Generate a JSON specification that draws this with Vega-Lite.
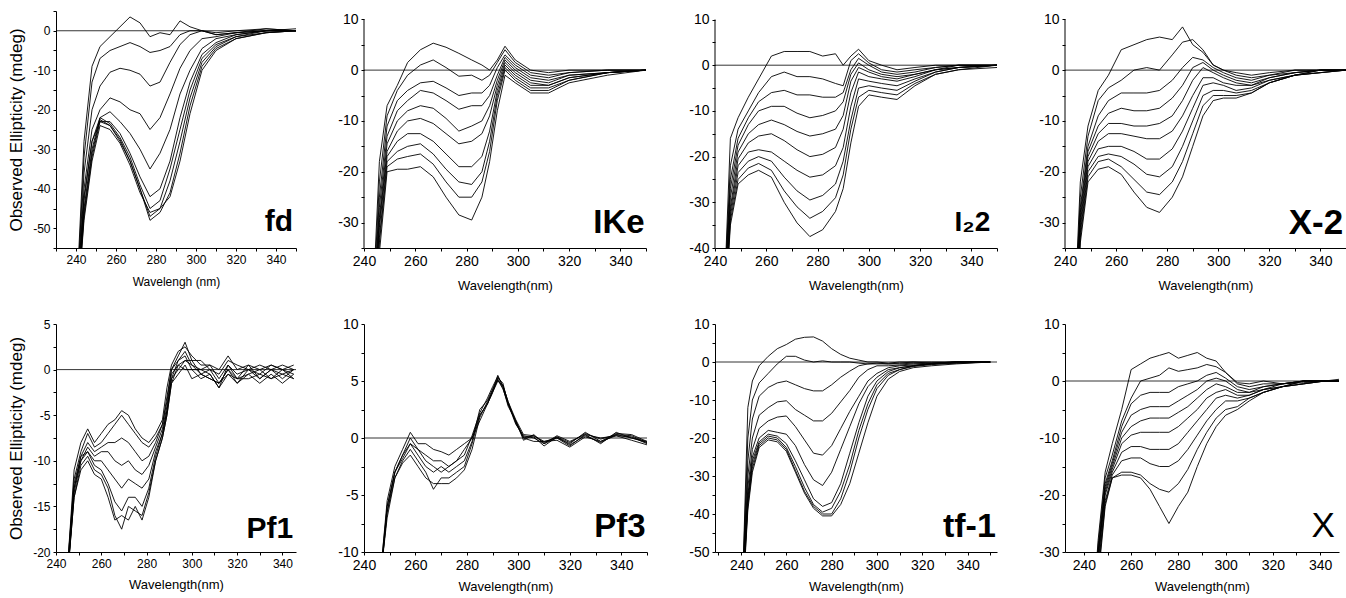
{
"$schema":"https://vega.github.io/schema/vega-lite/v6.json",
"background":"white",
"padding":{"left":7,"top":5,"right":0,"bottom":2},
"bounds":"flush",
"columns":4,
"spacing":{"row":76,"column":68},
"datasets":{"cd":[
{"s":"fda","w":241,"v":-60},{"s":"fda","w":244,"v":-28},{"s":"fda","w":248,"v":-9},{"s":"fda","w":252,"v":-4},{"s":"fda","w":257,"v":-1.5},{"s":"fda","w":262,"v":1},{"s":"fda","w":267,"v":3.5},{"s":"fda","w":272,"v":2},{"s":"fda","w":277,"v":-1.5},{"s":"fda","w":282,"v":-0.5},{"s":"fda","w":287,"v":-1},{"s":"fda","w":292,"v":2.5},{"s":"fda","w":297,"v":1},{"s":"fda","w":303,"v":0},{"s":"fda","w":310,"v":-0.5},{"s":"fda","w":320,"v":0},{"s":"fda","w":335,"v":0.5},{"s":"fda","w":350,"v":0},
{"s":"fdb","w":241,"v":-62},{"s":"fdb","w":244,"v":-32},{"s":"fdb","w":248,"v":-13},{"s":"fdb","w":252,"v":-7},{"s":"fdb","w":257,"v":-5},{"s":"fdb","w":262,"v":-4},{"s":"fdb","w":267,"v":-3},{"s":"fdb","w":272,"v":-4},{"s":"fdb","w":277,"v":-5.5},{"s":"fdb","w":282,"v":-5},{"s":"fdb","w":287,"v":-4},{"s":"fdb","w":292,"v":-1},{"s":"fdb","w":297,"v":0},{"s":"fdb","w":303,"v":0},{"s":"fdb","w":310,"v":-1},{"s":"fdb","w":320,"v":-0.5},{"s":"fdb","w":335,"v":0.5},{"s":"fdb","w":350,"v":0},
{"s":"fdc","w":241,"v":-63},{"s":"fdc","w":244,"v":-36},{"s":"fdc","w":248,"v":-20},{"s":"fdc","w":252,"v":-14},{"s":"fdc","w":257,"v":-10.5},{"s":"fdc","w":262,"v":-9.5},{"s":"fdc","w":267,"v":-10},{"s":"fdc","w":272,"v":-11},{"s":"fdc","w":277,"v":-14},{"s":"fdc","w":282,"v":-13},{"s":"fdc","w":287,"v":-8},{"s":"fdc","w":292,"v":-3.5},{"s":"fdc","w":297,"v":-1},{"s":"fdc","w":303,"v":0},{"s":"fdc","w":310,"v":-1},{"s":"fdc","w":320,"v":-0.5},{"s":"fdc","w":335,"v":0},{"s":"fdc","w":350,"v":0},
{"s":"fdd","w":241,"v":-64},{"s":"fdd","w":244,"v":-40},{"s":"fdd","w":248,"v":-25},{"s":"fdd","w":252,"v":-20},{"s":"fdd","w":257,"v":-17},{"s":"fdd","w":262,"v":-18},{"s":"fdd","w":267,"v":-20},{"s":"fdd","w":272,"v":-21},{"s":"fdd","w":277,"v":-25},{"s":"fdd","w":282,"v":-22},{"s":"fdd","w":287,"v":-16},{"s":"fdd","w":292,"v":-9.5},{"s":"fdd","w":297,"v":-5},{"s":"fdd","w":303,"v":-2},{"s":"fdd","w":310,"v":-1.5},{"s":"fdd","w":320,"v":-0.5},{"s":"fdd","w":335,"v":0},{"s":"fdd","w":350,"v":0},
{"s":"fde","w":241,"v":-65},{"s":"fde","w":244,"v":-43},{"s":"fde","w":248,"v":-28},{"s":"fde","w":252,"v":-22},{"s":"fde","w":257,"v":-20.5},{"s":"fde","w":262,"v":-23},{"s":"fde","w":267,"v":-26},{"s":"fde","w":272,"v":-30},{"s":"fde","w":277,"v":-35},{"s":"fde","w":282,"v":-31},{"s":"fde","w":287,"v":-25},{"s":"fde","w":292,"v":-16},{"s":"fde","w":297,"v":-10},{"s":"fde","w":303,"v":-4.5},{"s":"fde","w":310,"v":-2},{"s":"fde","w":320,"v":-1},{"s":"fde","w":335,"v":0},{"s":"fde","w":350,"v":0},
{"s":"fdf","w":241,"v":-66},{"s":"fdf","w":244,"v":-42},{"s":"fdf","w":248,"v":-28},{"s":"fdf","w":252,"v":-23},{"s":"fdf","w":257,"v":-23},{"s":"fdf","w":262,"v":-26},{"s":"fdf","w":267,"v":-31},{"s":"fdf","w":272,"v":-37},{"s":"fdf","w":277,"v":-42},{"s":"fdf","w":282,"v":-40},{"s":"fdf","w":287,"v":-33},{"s":"fdf","w":292,"v":-22},{"s":"fdf","w":297,"v":-13},{"s":"fdf","w":303,"v":-6},{"s":"fdf","w":310,"v":-3},{"s":"fdf","w":320,"v":-1},{"s":"fdf","w":335,"v":0},{"s":"fdf","w":350,"v":0.5},
{"s":"fdg","w":241,"v":-66},{"s":"fdg","w":244,"v":-45},{"s":"fdg","w":248,"v":-30},{"s":"fdg","w":252,"v":-22},{"s":"fdg","w":257,"v":-23.5},{"s":"fdg","w":262,"v":-27},{"s":"fdg","w":267,"v":-32},{"s":"fdg","w":272,"v":-39},{"s":"fdg","w":277,"v":-45},{"s":"fdg","w":282,"v":-43},{"s":"fdg","w":287,"v":-35},{"s":"fdg","w":292,"v":-25},{"s":"fdg","w":297,"v":-15},{"s":"fdg","w":303,"v":-7},{"s":"fdg","w":310,"v":-3.5},{"s":"fdg","w":320,"v":-1.5},{"s":"fdg","w":335,"v":0},{"s":"fdg","w":350,"v":0},
{"s":"fdh","w":241,"v":-67},{"s":"fdh","w":244,"v":-46},{"s":"fdh","w":248,"v":-31},{"s":"fdh","w":252,"v":-22.5},{"s":"fdh","w":257,"v":-24},{"s":"fdh","w":262,"v":-27.5},{"s":"fdh","w":267,"v":-33},{"s":"fdh","w":272,"v":-40},{"s":"fdh","w":277,"v":-47},{"s":"fdh","w":282,"v":-45},{"s":"fdh","w":287,"v":-38},{"s":"fdh","w":292,"v":-28},{"s":"fdh","w":297,"v":-17},{"s":"fdh","w":303,"v":-8},{"s":"fdh","w":310,"v":-4},{"s":"fdh","w":320,"v":-1.5},{"s":"fdh","w":335,"v":-0.5},{"s":"fdh","w":350,"v":0},
{"s":"fdi","w":241,"v":-68},{"s":"fdi","w":244,"v":-47},{"s":"fdi","w":248,"v":-32},{"s":"fdi","w":252,"v":-23},{"s":"fdi","w":257,"v":-24},{"s":"fdi","w":262,"v":-28},{"s":"fdi","w":267,"v":-33},{"s":"fdi","w":272,"v":-40},{"s":"fdi","w":277,"v":-48},{"s":"fdi","w":282,"v":-46},{"s":"fdi","w":287,"v":-41},{"s":"fdi","w":292,"v":-31},{"s":"fdi","w":297,"v":-19},{"s":"fdi","w":303,"v":-9},{"s":"fdi","w":310,"v":-4.5},{"s":"fdi","w":320,"v":-2},{"s":"fdi","w":335,"v":-0.5},{"s":"fdi","w":350,"v":0},
{"s":"fdj","w":241,"v":-68},{"s":"fdj","w":244,"v":-48},{"s":"fdj","w":248,"v":-33},{"s":"fdj","w":252,"v":-24},{"s":"fdj","w":257,"v":-25},{"s":"fdj","w":262,"v":-28.5},{"s":"fdj","w":267,"v":-34},{"s":"fdj","w":272,"v":-41},{"s":"fdj","w":277,"v":-46},{"s":"fdj","w":282,"v":-45},{"s":"fdj","w":287,"v":-42},{"s":"fdj","w":292,"v":-33},{"s":"fdj","w":297,"v":-21},{"s":"fdj","w":303,"v":-10},{"s":"fdj","w":310,"v":-5},{"s":"fdj","w":320,"v":-2},{"s":"fdj","w":335,"v":-0.5},{"s":"fdj","w":350,"v":0},
{"s":"ika","w":244,"v":-40},{"s":"ika","w":246,"v":-18},{"s":"ika","w":249,"v":-7},{"s":"ika","w":253,"v":-3},{"s":"ika","w":257,"v":1.5},{"s":"ika","w":262,"v":4},{"s":"ika","w":267,"v":5.3},{"s":"ika","w":272,"v":4.5},{"s":"ika","w":277,"v":3.3},{"s":"ika","w":282,"v":2},{"s":"ika","w":286,"v":1},{"s":"ika","w":289,"v":0},{"s":"ika","w":292,"v":2},{"s":"ika","w":295,"v":4.7},{"s":"ika","w":299,"v":2},{"s":"ika","w":305,"v":0},{"s":"ika","w":312,"v":-0.5},{"s":"ika","w":320,"v":0},{"s":"ika","w":335,"v":0},{"s":"ika","w":350,"v":0},
{"s":"ikb","w":244,"v":-42},{"s":"ikb","w":246,"v":-22},{"s":"ikb","w":249,"v":-9},{"s":"ikb","w":253,"v":-4},{"s":"ikb","w":257,"v":-1},{"s":"ikb","w":262,"v":1},{"s":"ikb","w":267,"v":2},{"s":"ikb","w":272,"v":0.5},{"s":"ikb","w":277,"v":-1.2},{"s":"ikb","w":282,"v":-1},{"s":"ikb","w":286,"v":-2},{"s":"ikb","w":289,"v":-1},{"s":"ikb","w":292,"v":1.5},{"s":"ikb","w":295,"v":4},{"s":"ikb","w":299,"v":1.5},{"s":"ikb","w":305,"v":-0.5},{"s":"ikb","w":312,"v":-1},{"s":"ikb","w":320,"v":-0.5},{"s":"ikb","w":335,"v":0},{"s":"ikb","w":350,"v":0},
{"s":"ikc","w":244,"v":-44},{"s":"ikc","w":246,"v":-25},{"s":"ikc","w":249,"v":-11},{"s":"ikc","w":253,"v":-6},{"s":"ikc","w":257,"v":-4},{"s":"ikc","w":262,"v":-2.5},{"s":"ikc","w":267,"v":-2.2},{"s":"ikc","w":272,"v":-3.5},{"s":"ikc","w":277,"v":-5},{"s":"ikc","w":282,"v":-4.5},{"s":"ikc","w":286,"v":-4.5},{"s":"ikc","w":289,"v":-3},{"s":"ikc","w":292,"v":0.5},{"s":"ikc","w":295,"v":3},{"s":"ikc","w":299,"v":1},{"s":"ikc","w":305,"v":-1},{"s":"ikc","w":312,"v":-1.5},{"s":"ikc","w":320,"v":-0.5},{"s":"ikc","w":335,"v":0},{"s":"ikc","w":350,"v":0},
{"s":"ikd","w":244,"v":-45},{"s":"ikd","w":246,"v":-27},{"s":"ikd","w":249,"v":-13},{"s":"ikd","w":253,"v":-8},{"s":"ikd","w":257,"v":-6},{"s":"ikd","w":262,"v":-4},{"s":"ikd","w":267,"v":-4.5},{"s":"ikd","w":272,"v":-6},{"s":"ikd","w":277,"v":-7.7},{"s":"ikd","w":282,"v":-7},{"s":"ikd","w":286,"v":-7},{"s":"ikd","w":289,"v":-5},{"s":"ikd","w":292,"v":-1},{"s":"ikd","w":295,"v":2.5},{"s":"ikd","w":299,"v":0.5},{"s":"ikd","w":305,"v":-1.5},{"s":"ikd","w":312,"v":-2},{"s":"ikd","w":320,"v":-1},{"s":"ikd","w":335,"v":-0.5},{"s":"ikd","w":350,"v":0},
{"s":"ike","w":244,"v":-46},{"s":"ike","w":246,"v":-29},{"s":"ike","w":249,"v":-14.5},{"s":"ike","w":253,"v":-10},{"s":"ike","w":257,"v":-8},{"s":"ike","w":262,"v":-7},{"s":"ike","w":267,"v":-7.5},{"s":"ike","w":272,"v":-9.5},{"s":"ike","w":277,"v":-12},{"s":"ike","w":282,"v":-11},{"s":"ike","w":286,"v":-10},{"s":"ike","w":289,"v":-7},{"s":"ike","w":292,"v":-2},{"s":"ike","w":295,"v":2},{"s":"ike","w":299,"v":0},{"s":"ike","w":305,"v":-2},{"s":"ike","w":312,"v":-2.5},{"s":"ike","w":320,"v":-1},{"s":"ike","w":335,"v":-0.5},{"s":"ike","w":350,"v":0},
{"s":"ikf","w":244,"v":-47},{"s":"ikf","w":246,"v":-30},{"s":"ikf","w":249,"v":-16},{"s":"ikf","w":253,"v":-12},{"s":"ikf","w":257,"v":-10},{"s":"ikf","w":262,"v":-9.5},{"s":"ikf","w":267,"v":-10.5},{"s":"ikf","w":272,"v":-12.5},{"s":"ikf","w":277,"v":-14.5},{"s":"ikf","w":282,"v":-14},{"s":"ikf","w":286,"v":-12.5},{"s":"ikf","w":289,"v":-9},{"s":"ikf","w":292,"v":-3},{"s":"ikf","w":295,"v":1.5},{"s":"ikf","w":299,"v":-0.5},{"s":"ikf","w":305,"v":-2.5},{"s":"ikf","w":312,"v":-3},{"s":"ikf","w":320,"v":-1.5},{"s":"ikf","w":335,"v":-0.5},{"s":"ikf","w":350,"v":0},
{"s":"ikg","w":244,"v":-48},{"s":"ikg","w":246,"v":-31},{"s":"ikg","w":249,"v":-17},{"s":"ikg","w":253,"v":-14},{"s":"ikg","w":257,"v":-12.5},{"s":"ikg","w":262,"v":-12.5},{"s":"ikg","w":267,"v":-14},{"s":"ikg","w":272,"v":-16.5},{"s":"ikg","w":277,"v":-19},{"s":"ikg","w":282,"v":-19},{"s":"ikg","w":286,"v":-17},{"s":"ikg","w":289,"v":-12},{"s":"ikg","w":292,"v":-4},{"s":"ikg","w":295,"v":1},{"s":"ikg","w":299,"v":-1},{"s":"ikg","w":305,"v":-3},{"s":"ikg","w":312,"v":-3},{"s":"ikg","w":320,"v":-1.5},{"s":"ikg","w":335,"v":-0.5},{"s":"ikg","w":350,"v":0},
{"s":"ikh","w":244,"v":-49},{"s":"ikh","w":246,"v":-33},{"s":"ikh","w":249,"v":-18},{"s":"ikh","w":253,"v":-16},{"s":"ikh","w":257,"v":-15},{"s":"ikh","w":262,"v":-14.5},{"s":"ikh","w":267,"v":-16.5},{"s":"ikh","w":272,"v":-19.5},{"s":"ikh","w":277,"v":-22},{"s":"ikh","w":282,"v":-22.5},{"s":"ikh","w":286,"v":-20},{"s":"ikh","w":289,"v":-14},{"s":"ikh","w":292,"v":-5},{"s":"ikh","w":295,"v":0.5},{"s":"ikh","w":299,"v":-1.5},{"s":"ikh","w":305,"v":-3.5},{"s":"ikh","w":312,"v":-3.5},{"s":"ikh","w":320,"v":-2},{"s":"ikh","w":335,"v":-0.5},{"s":"ikh","w":350,"v":0},
{"s":"iki","w":244,"v":-50},{"s":"iki","w":246,"v":-34},{"s":"iki","w":249,"v":-19},{"s":"iki","w":253,"v":-17.5},{"s":"iki","w":257,"v":-17},{"s":"iki","w":262,"v":-16.5},{"s":"iki","w":267,"v":-18.5},{"s":"iki","w":272,"v":-22},{"s":"iki","w":277,"v":-25},{"s":"iki","w":282,"v":-25},{"s":"iki","w":286,"v":-22},{"s":"iki","w":289,"v":-16},{"s":"iki","w":292,"v":-6},{"s":"iki","w":295,"v":0},{"s":"iki","w":299,"v":-2},{"s":"iki","w":305,"v":-4},{"s":"iki","w":312,"v":-4},{"s":"iki","w":320,"v":-2},{"s":"iki","w":335,"v":-0.5},{"s":"iki","w":350,"v":0},
{"s":"ikj","w":244,"v":-52},{"s":"ikj","w":246,"v":-36},{"s":"ikj","w":249,"v":-20},{"s":"ikj","w":253,"v":-19.5},{"s":"ikj","w":257,"v":-19.5},{"s":"ikj","w":262,"v":-19},{"s":"ikj","w":267,"v":-21},{"s":"ikj","w":272,"v":-25},{"s":"ikj","w":277,"v":-28.5},{"s":"ikj","w":282,"v":-29.5},{"s":"ikj","w":286,"v":-25},{"s":"ikj","w":289,"v":-18},{"s":"ikj","w":292,"v":-8},{"s":"ikj","w":295,"v":-1},{"s":"ikj","w":299,"v":-2.5},{"s":"ikj","w":305,"v":-4.5},{"s":"ikj","w":312,"v":-4.5},{"s":"ikj","w":320,"v":-2.5},{"s":"ikj","w":335,"v":-1},{"s":"ikj","w":350,"v":0},
{"s":"i2a","w":244,"v":-45},{"s":"i2a","w":246,"v":-16},{"s":"i2a","w":249,"v":-11.5},{"s":"i2a","w":253,"v":-7},{"s":"i2a","w":257,"v":-3},{"s":"i2a","w":262,"v":2},{"s":"i2a","w":267,"v":3},{"s":"i2a","w":272,"v":3},{"s":"i2a","w":277,"v":3},{"s":"i2a","w":282,"v":2},{"s":"i2a","w":287,"v":2.5},{"s":"i2a","w":290,"v":0},{"s":"i2a","w":293,"v":2},{"s":"i2a","w":296,"v":3.5},{"s":"i2a","w":300,"v":1},{"s":"i2a","w":305,"v":0},{"s":"i2a","w":311,"v":-1},{"s":"i2a","w":318,"v":-0.5},{"s":"i2a","w":326,"v":0},{"s":"i2a","w":335,"v":0},{"s":"i2a","w":350,"v":0},
{"s":"i2b","w":244,"v":-46},{"s":"i2b","w":246,"v":-22},{"s":"i2b","w":249,"v":-14},{"s":"i2b","w":253,"v":-10},{"s":"i2b","w":257,"v":-6},{"s":"i2b","w":262,"v":-2.5},{"s":"i2b","w":267,"v":-1.5},{"s":"i2b","w":272,"v":-2.5},{"s":"i2b","w":277,"v":-2.5},{"s":"i2b","w":282,"v":-3},{"s":"i2b","w":287,"v":-4},{"s":"i2b","w":290,"v":-4.5},{"s":"i2b","w":293,"v":1},{"s":"i2b","w":296,"v":2.5},{"s":"i2b","w":300,"v":0.5},{"s":"i2b","w":305,"v":-1},{"s":"i2b","w":311,"v":-1.5},{"s":"i2b","w":318,"v":-1},{"s":"i2b","w":326,"v":-0.5},{"s":"i2b","w":335,"v":0},{"s":"i2b","w":350,"v":0},
{"s":"i2c","w":244,"v":-47},{"s":"i2c","w":246,"v":-25},{"s":"i2c","w":249,"v":-16},{"s":"i2c","w":253,"v":-11.5},{"s":"i2c","w":257,"v":-8},{"s":"i2c","w":262,"v":-6},{"s":"i2c","w":267,"v":-5.5},{"s":"i2c","w":272,"v":-6.5},{"s":"i2c","w":277,"v":-6.5},{"s":"i2c","w":282,"v":-7},{"s":"i2c","w":287,"v":-7},{"s":"i2c","w":290,"v":-6},{"s":"i2c","w":293,"v":-1},{"s":"i2c","w":296,"v":1.5},{"s":"i2c","w":300,"v":0},{"s":"i2c","w":305,"v":-1.5},{"s":"i2c","w":311,"v":-2},{"s":"i2c","w":318,"v":-1.5},{"s":"i2c","w":326,"v":-0.5},{"s":"i2c","w":335,"v":0},{"s":"i2c","w":350,"v":0},
{"s":"i2d","w":244,"v":-48},{"s":"i2d","w":246,"v":-27},{"s":"i2d","w":249,"v":-17.5},{"s":"i2d","w":253,"v":-13},{"s":"i2d","w":257,"v":-10},{"s":"i2d","w":262,"v":-9},{"s":"i2d","w":267,"v":-9},{"s":"i2d","w":272,"v":-10.5},{"s":"i2d","w":277,"v":-11.5},{"s":"i2d","w":282,"v":-11},{"s":"i2d","w":287,"v":-10},{"s":"i2d","w":290,"v":-8},{"s":"i2d","w":293,"v":-2},{"s":"i2d","w":296,"v":0.5},{"s":"i2d","w":300,"v":-1},{"s":"i2d","w":305,"v":-2},{"s":"i2d","w":311,"v":-2.5},{"s":"i2d","w":318,"v":-2},{"s":"i2d","w":326,"v":-1},{"s":"i2d","w":335,"v":0},{"s":"i2d","w":350,"v":0},
{"s":"i2e","w":244,"v":-49},{"s":"i2e","w":246,"v":-29},{"s":"i2e","w":249,"v":-19},{"s":"i2e","w":253,"v":-15},{"s":"i2e","w":257,"v":-13},{"s":"i2e","w":262,"v":-12},{"s":"i2e","w":267,"v":-13},{"s":"i2e","w":272,"v":-14.5},{"s":"i2e","w":277,"v":-15.5},{"s":"i2e","w":282,"v":-15},{"s":"i2e","w":287,"v":-14},{"s":"i2e","w":290,"v":-11},{"s":"i2e","w":293,"v":-3.5},{"s":"i2e","w":296,"v":-0.5},{"s":"i2e","w":300,"v":-1.5},{"s":"i2e","w":305,"v":-2.5},{"s":"i2e","w":311,"v":-3},{"s":"i2e","w":318,"v":-2},{"s":"i2e","w":326,"v":-1},{"s":"i2e","w":335,"v":-0.5},{"s":"i2e","w":350,"v":0},
{"s":"i2f","w":244,"v":-50},{"s":"i2f","w":246,"v":-31},{"s":"i2f","w":249,"v":-20.5},{"s":"i2f","w":253,"v":-17},{"s":"i2f","w":257,"v":-15.5},{"s":"i2f","w":262,"v":-15},{"s":"i2f","w":267,"v":-16.5},{"s":"i2f","w":272,"v":-18.5},{"s":"i2f","w":277,"v":-20},{"s":"i2f","w":282,"v":-19.5},{"s":"i2f","w":287,"v":-18},{"s":"i2f","w":290,"v":-14},{"s":"i2f","w":293,"v":-6},{"s":"i2f","w":296,"v":-1.5},{"s":"i2f","w":300,"v":-2.5},{"s":"i2f","w":305,"v":-3},{"s":"i2f","w":311,"v":-3.5},{"s":"i2f","w":318,"v":-2.5},{"s":"i2f","w":326,"v":-1},{"s":"i2f","w":335,"v":-0.5},{"s":"i2f","w":350,"v":0},
{"s":"i2g","w":244,"v":-51},{"s":"i2g","w":246,"v":-32},{"s":"i2g","w":249,"v":-22},{"s":"i2g","w":253,"v":-19},{"s":"i2g","w":257,"v":-18.5},{"s":"i2g","w":262,"v":-19},{"s":"i2g","w":267,"v":-21},{"s":"i2g","w":272,"v":-23},{"s":"i2g","w":277,"v":-24.5},{"s":"i2g","w":282,"v":-24},{"s":"i2g","w":287,"v":-22},{"s":"i2g","w":290,"v":-18},{"s":"i2g","w":293,"v":-9},{"s":"i2g","w":296,"v":-3},{"s":"i2g","w":300,"v":-3.5},{"s":"i2g","w":305,"v":-4},{"s":"i2g","w":311,"v":-4.5},{"s":"i2g","w":318,"v":-3},{"s":"i2g","w":326,"v":-1.5},{"s":"i2g","w":335,"v":-0.5},{"s":"i2g","w":350,"v":0},
{"s":"i2h","w":244,"v":-52},{"s":"i2h","w":246,"v":-33},{"s":"i2h","w":249,"v":-23.5},{"s":"i2h","w":253,"v":-21},{"s":"i2h","w":257,"v":-20},{"s":"i2h","w":262,"v":-21},{"s":"i2h","w":267,"v":-24.5},{"s":"i2h","w":272,"v":-27.5},{"s":"i2h","w":277,"v":-29.5},{"s":"i2h","w":282,"v":-28.5},{"s":"i2h","w":287,"v":-26},{"s":"i2h","w":290,"v":-21},{"s":"i2h","w":293,"v":-12},{"s":"i2h","w":296,"v":-5},{"s":"i2h","w":300,"v":-4.5},{"s":"i2h","w":305,"v":-5},{"s":"i2h","w":311,"v":-5.5},{"s":"i2h","w":318,"v":-3.5},{"s":"i2h","w":326,"v":-1.5},{"s":"i2h","w":335,"v":-0.5},{"s":"i2h","w":350,"v":0},
{"s":"i2i","w":244,"v":-53},{"s":"i2i","w":246,"v":-34},{"s":"i2i","w":249,"v":-25},{"s":"i2i","w":253,"v":-22.5},{"s":"i2i","w":257,"v":-21.5},{"s":"i2i","w":262,"v":-23},{"s":"i2i","w":267,"v":-27.5},{"s":"i2i","w":272,"v":-31},{"s":"i2i","w":277,"v":-33.5},{"s":"i2i","w":282,"v":-32},{"s":"i2i","w":287,"v":-29},{"s":"i2i","w":290,"v":-24},{"s":"i2i","w":293,"v":-14},{"s":"i2i","w":296,"v":-7},{"s":"i2i","w":300,"v":-5.5},{"s":"i2i","w":305,"v":-6},{"s":"i2i","w":311,"v":-6.5},{"s":"i2i","w":318,"v":-4},{"s":"i2i","w":326,"v":-2},{"s":"i2i","w":335,"v":-1},{"s":"i2i","w":350,"v":0},
{"s":"i2j","w":244,"v":-54},{"s":"i2j","w":246,"v":-35},{"s":"i2j","w":249,"v":-26},{"s":"i2j","w":253,"v":-24},{"s":"i2j","w":257,"v":-23},{"s":"i2j","w":262,"v":-24.5},{"s":"i2j","w":267,"v":-30},{"s":"i2j","w":272,"v":-34.5},{"s":"i2j","w":277,"v":-37.5},{"s":"i2j","w":282,"v":-36},{"s":"i2j","w":287,"v":-32},{"s":"i2j","w":290,"v":-27},{"s":"i2j","w":293,"v":-17},{"s":"i2j","w":296,"v":-9},{"s":"i2j","w":300,"v":-6.5},{"s":"i2j","w":305,"v":-7},{"s":"i2j","w":311,"v":-7.5},{"s":"i2j","w":318,"v":-4.5},{"s":"i2j","w":326,"v":-2},{"s":"i2j","w":335,"v":-1},{"s":"i2j","w":350,"v":-0.5},
{"s":"x2a","w":244,"v":-45},{"s":"x2a","w":246,"v":-22},{"s":"x2a","w":249,"v":-11},{"s":"x2a","w":253,"v":-4},{"s":"x2a","w":257,"v":-1},{"s":"x2a","w":262,"v":4},{"s":"x2a","w":267,"v":5},{"s":"x2a","w":272,"v":6},{"s":"x2a","w":277,"v":6.5},{"s":"x2a","w":282,"v":6},{"s":"x2a","w":286,"v":8.5},{"s":"x2a","w":290,"v":5},{"s":"x2a","w":294,"v":3.5},{"s":"x2a","w":298,"v":1},{"s":"x2a","w":302,"v":0},{"s":"x2a","w":307,"v":-0.5},{"s":"x2a","w":313,"v":-1},{"s":"x2a","w":320,"v":-0.5},{"s":"x2a","w":330,"v":0},{"s":"x2a","w":340,"v":0},{"s":"x2a","w":350,"v":0},
{"s":"x2b","w":244,"v":-46},{"s":"x2b","w":246,"v":-25},{"s":"x2b","w":249,"v":-13},{"s":"x2b","w":253,"v":-6},{"s":"x2b","w":257,"v":-3.5},{"s":"x2b","w":262,"v":-2},{"s":"x2b","w":267,"v":0},{"s":"x2b","w":272,"v":0.5},{"s":"x2b","w":277,"v":0},{"s":"x2b","w":282,"v":3},{"s":"x2b","w":286,"v":5.5},{"s":"x2b","w":290,"v":6},{"s":"x2b","w":294,"v":4},{"s":"x2b","w":298,"v":1},{"s":"x2b","w":302,"v":0},{"s":"x2b","w":307,"v":-1},{"s":"x2b","w":313,"v":-1.5},{"s":"x2b","w":320,"v":-1},{"s":"x2b","w":330,"v":0},{"s":"x2b","w":340,"v":0},{"s":"x2b","w":350,"v":0},
{"s":"x2c","w":244,"v":-47},{"s":"x2c","w":246,"v":-27},{"s":"x2c","w":249,"v":-15},{"s":"x2c","w":253,"v":-9},{"s":"x2c","w":257,"v":-6},{"s":"x2c","w":262,"v":-4.5},{"s":"x2c","w":267,"v":-4.5},{"s":"x2c","w":272,"v":-4.5},{"s":"x2c","w":277,"v":-4},{"s":"x2c","w":282,"v":-2},{"s":"x2c","w":286,"v":0.5},{"s":"x2c","w":290,"v":2.5},{"s":"x2c","w":294,"v":2},{"s":"x2c","w":298,"v":0.5},{"s":"x2c","w":302,"v":-0.5},{"s":"x2c","w":307,"v":-1.5},{"s":"x2c","w":313,"v":-2},{"s":"x2c","w":320,"v":-1},{"s":"x2c","w":330,"v":-0.5},{"s":"x2c","w":340,"v":0},{"s":"x2c","w":350,"v":0},
{"s":"x2d","w":244,"v":-48},{"s":"x2d","w":246,"v":-28},{"s":"x2d","w":249,"v":-16},{"s":"x2d","w":253,"v":-11},{"s":"x2d","w":257,"v":-8.5},{"s":"x2d","w":262,"v":-7.5},{"s":"x2d","w":267,"v":-8},{"s":"x2d","w":272,"v":-8},{"s":"x2d","w":277,"v":-7.5},{"s":"x2d","w":282,"v":-5.5},{"s":"x2d","w":286,"v":-3},{"s":"x2d","w":290,"v":0.5},{"s":"x2d","w":294,"v":1.5},{"s":"x2d","w":298,"v":0},{"s":"x2d","w":302,"v":-1},{"s":"x2d","w":307,"v":-2},{"s":"x2d","w":313,"v":-2.5},{"s":"x2d","w":320,"v":-1.5},{"s":"x2d","w":330,"v":-0.5},{"s":"x2d","w":340,"v":0},{"s":"x2d","w":350,"v":0},
{"s":"x2e","w":244,"v":-49},{"s":"x2e","w":246,"v":-29},{"s":"x2e","w":249,"v":-17},{"s":"x2e","w":253,"v":-12.5},{"s":"x2e","w":257,"v":-10.5},{"s":"x2e","w":262,"v":-10.5},{"s":"x2e","w":267,"v":-11},{"s":"x2e","w":272,"v":-11},{"s":"x2e","w":277,"v":-10.5},{"s":"x2e","w":282,"v":-9},{"s":"x2e","w":286,"v":-6},{"s":"x2e","w":290,"v":-2},{"s":"x2e","w":294,"v":0.5},{"s":"x2e","w":298,"v":-0.5},{"s":"x2e","w":302,"v":-1.5},{"s":"x2e","w":307,"v":-2.5},{"s":"x2e","w":313,"v":-3},{"s":"x2e","w":320,"v":-1.5},{"s":"x2e","w":330,"v":-0.5},{"s":"x2e","w":340,"v":0},{"s":"x2e","w":350,"v":0},
{"s":"x2f","w":244,"v":-50},{"s":"x2f","w":246,"v":-30},{"s":"x2f","w":249,"v":-18},{"s":"x2f","w":253,"v":-14},{"s":"x2f","w":257,"v":-12.5},{"s":"x2f","w":262,"v":-12.5},{"s":"x2f","w":267,"v":-13},{"s":"x2f","w":272,"v":-13.5},{"s":"x2f","w":277,"v":-13.5},{"s":"x2f","w":282,"v":-12},{"s":"x2f","w":286,"v":-9},{"s":"x2f","w":290,"v":-5},{"s":"x2f","w":294,"v":-1.5},{"s":"x2f","w":298,"v":-1.5},{"s":"x2f","w":302,"v":-2.5},{"s":"x2f","w":307,"v":-3},{"s":"x2f","w":313,"v":-3},{"s":"x2f","w":320,"v":-2},{"s":"x2f","w":330,"v":-1},{"s":"x2f","w":340,"v":0},{"s":"x2f","w":350,"v":0},
{"s":"x2g","w":244,"v":-51},{"s":"x2g","w":246,"v":-31},{"s":"x2g","w":249,"v":-19},{"s":"x2g","w":253,"v":-15.5},{"s":"x2g","w":257,"v":-15},{"s":"x2g","w":262,"v":-15},{"s":"x2g","w":267,"v":-16},{"s":"x2g","w":272,"v":-17.5},{"s":"x2g","w":277,"v":-17.5},{"s":"x2g","w":282,"v":-15.5},{"s":"x2g","w":286,"v":-12},{"s":"x2g","w":290,"v":-7.5},{"s":"x2g","w":294,"v":-3},{"s":"x2g","w":298,"v":-2.5},{"s":"x2g","w":302,"v":-3},{"s":"x2g","w":307,"v":-4},{"s":"x2g","w":313,"v":-3.5},{"s":"x2g","w":320,"v":-2},{"s":"x2g","w":330,"v":-1},{"s":"x2g","w":340,"v":0},{"s":"x2g","w":350,"v":0},
{"s":"x2h","w":244,"v":-52},{"s":"x2h","w":246,"v":-32},{"s":"x2h","w":249,"v":-20},{"s":"x2h","w":253,"v":-17},{"s":"x2h","w":257,"v":-16.5},{"s":"x2h","w":262,"v":-17},{"s":"x2h","w":267,"v":-18.5},{"s":"x2h","w":272,"v":-20.5},{"s":"x2h","w":277,"v":-21},{"s":"x2h","w":282,"v":-19},{"s":"x2h","w":286,"v":-15},{"s":"x2h","w":290,"v":-10},{"s":"x2h","w":294,"v":-5},{"s":"x2h","w":298,"v":-4},{"s":"x2h","w":302,"v":-4},{"s":"x2h","w":307,"v":-4.5},{"s":"x2h","w":313,"v":-4},{"s":"x2h","w":320,"v":-2.5},{"s":"x2h","w":330,"v":-1},{"s":"x2h","w":340,"v":-0.5},{"s":"x2h","w":350,"v":0},
{"s":"x2i","w":244,"v":-53},{"s":"x2i","w":246,"v":-33},{"s":"x2i","w":249,"v":-21},{"s":"x2i","w":253,"v":-18},{"s":"x2i","w":257,"v":-17.5},{"s":"x2i","w":262,"v":-19},{"s":"x2i","w":267,"v":-21.5},{"s":"x2i","w":272,"v":-24},{"s":"x2i","w":277,"v":-24.5},{"s":"x2i","w":282,"v":-22},{"s":"x2i","w":286,"v":-18},{"s":"x2i","w":290,"v":-12.5},{"s":"x2i","w":294,"v":-7},{"s":"x2i","w":298,"v":-5},{"s":"x2i","w":302,"v":-5},{"s":"x2i","w":307,"v":-5},{"s":"x2i","w":313,"v":-4.5},{"s":"x2i","w":320,"v":-2.5},{"s":"x2i","w":330,"v":-1},{"s":"x2i","w":340,"v":-0.5},{"s":"x2i","w":350,"v":0},
{"s":"x2j","w":244,"v":-54},{"s":"x2j","w":246,"v":-34},{"s":"x2j","w":249,"v":-22},{"s":"x2j","w":253,"v":-19.5},{"s":"x2j","w":257,"v":-19},{"s":"x2j","w":262,"v":-20.5},{"s":"x2j","w":267,"v":-24},{"s":"x2j","w":272,"v":-27},{"s":"x2j","w":277,"v":-28},{"s":"x2j","w":282,"v":-25},{"s":"x2j","w":286,"v":-21},{"s":"x2j","w":290,"v":-15},{"s":"x2j","w":294,"v":-9},{"s":"x2j","w":298,"v":-6},{"s":"x2j","w":302,"v":-5.5},{"s":"x2j","w":307,"v":-5.5},{"s":"x2j","w":313,"v":-4.5},{"s":"x2j","w":320,"v":-2.5},{"s":"x2j","w":330,"v":-1},{"s":"x2j","w":340,"v":-0.5},{"s":"x2j","w":350,"v":0},
{"s":"p1a","w":245,"v":-22},{"s":"p1a","w":248,"v":-11},{"s":"p1a","w":251,"v":-8},{"s":"p1a","w":254,"v":-6.5},{"s":"p1a","w":257,"v":-8},{"s":"p1a","w":260,"v":-7},{"s":"p1a","w":263,"v":-6},{"s":"p1a","w":266,"v":-5.5},{"s":"p1a","w":269,"v":-4.5},{"s":"p1a","w":272,"v":-5},{"s":"p1a","w":275,"v":-6.5},{"s":"p1a","w":278,"v":-7.5},{"s":"p1a","w":281,"v":-8},{"s":"p1a","w":284,"v":-7},{"s":"p1a","w":287,"v":-5.5},{"s":"p1a","w":289,"v":-2},{"s":"p1a","w":291,"v":0.5},{"s":"p1a","w":294,"v":2},{"s":"p1a","w":297,"v":2.5},{"s":"p1a","w":300,"v":1.5},{"s":"p1a","w":304,"v":0.5},{"s":"p1a","w":308,"v":0.5},{"s":"p1a","w":312,"v":0},{"s":"p1a","w":316,"v":1.5},{"s":"p1a","w":320,"v":0},{"s":"p1a","w":325,"v":0.5},{"s":"p1a","w":330,"v":0},{"s":"p1a","w":335,"v":0.5},{"s":"p1a","w":340,"v":0},{"s":"p1a","w":345,"v":0.5},
{"s":"p1b","w":245,"v":-22},{"s":"p1b","w":248,"v":-12},{"s":"p1b","w":251,"v":-9},{"s":"p1b","w":254,"v":-7},{"s":"p1b","w":257,"v":-8.5},{"s":"p1b","w":260,"v":-8},{"s":"p1b","w":263,"v":-7},{"s":"p1b","w":266,"v":-6},{"s":"p1b","w":269,"v":-5},{"s":"p1b","w":272,"v":-6},{"s":"p1b","w":275,"v":-7},{"s":"p1b","w":278,"v":-8},{"s":"p1b","w":281,"v":-8.5},{"s":"p1b","w":284,"v":-7.5},{"s":"p1b","w":287,"v":-6},{"s":"p1b","w":289,"v":-3},{"s":"p1b","w":291,"v":0},{"s":"p1b","w":294,"v":1.5},{"s":"p1b","w":297,"v":3},{"s":"p1b","w":300,"v":1},{"s":"p1b","w":304,"v":1},{"s":"p1b","w":308,"v":0},{"s":"p1b","w":312,"v":-0.5},{"s":"p1b","w":316,"v":1},{"s":"p1b","w":320,"v":0.5},{"s":"p1b","w":325,"v":0},{"s":"p1b","w":330,"v":0.5},{"s":"p1b","w":335,"v":0},{"s":"p1b","w":340,"v":0.5},{"s":"p1b","w":345,"v":0},
{"s":"p1c","w":245,"v":-22},{"s":"p1c","w":248,"v":-12.5},{"s":"p1c","w":251,"v":-9.5},{"s":"p1c","w":254,"v":-8},{"s":"p1c","w":257,"v":-9},{"s":"p1c","w":260,"v":-8.5},{"s":"p1c","w":263,"v":-8},{"s":"p1c","w":266,"v":-8},{"s":"p1c","w":269,"v":-7.5},{"s":"p1c","w":272,"v":-8},{"s":"p1c","w":275,"v":-9},{"s":"p1c","w":278,"v":-10},{"s":"p1c","w":281,"v":-9.5},{"s":"p1c","w":284,"v":-8},{"s":"p1c","w":287,"v":-6},{"s":"p1c","w":289,"v":-3.5},{"s":"p1c","w":291,"v":0},{"s":"p1c","w":294,"v":1},{"s":"p1c","w":297,"v":2},{"s":"p1c","w":300,"v":0.5},{"s":"p1c","w":304,"v":0},{"s":"p1c","w":308,"v":0.5},{"s":"p1c","w":312,"v":-1},{"s":"p1c","w":316,"v":0.5},{"s":"p1c","w":320,"v":-0.5},{"s":"p1c","w":325,"v":0},{"s":"p1c","w":330,"v":-0.5},{"s":"p1c","w":335,"v":0.5},{"s":"p1c","w":340,"v":0},{"s":"p1c","w":345,"v":-0.5},
{"s":"p1d","w":245,"v":-23},{"s":"p1d","w":248,"v":-13},{"s":"p1d","w":251,"v":-10},{"s":"p1d","w":254,"v":-8.5},{"s":"p1d","w":257,"v":-9.5},{"s":"p1d","w":260,"v":-9},{"s":"p1d","w":263,"v":-9},{"s":"p1d","w":266,"v":-10},{"s":"p1d","w":269,"v":-10.5},{"s":"p1d","w":272,"v":-10},{"s":"p1d","w":275,"v":-11},{"s":"p1d","w":278,"v":-11.5},{"s":"p1d","w":281,"v":-10.5},{"s":"p1d","w":284,"v":-8.5},{"s":"p1d","w":287,"v":-6.5},{"s":"p1d","w":289,"v":-4},{"s":"p1d","w":291,"v":-0.5},{"s":"p1d","w":294,"v":0.5},{"s":"p1d","w":297,"v":1},{"s":"p1d","w":300,"v":1},{"s":"p1d","w":304,"v":-0.5},{"s":"p1d","w":308,"v":0},{"s":"p1d","w":312,"v":-1.5},{"s":"p1d","w":316,"v":0},{"s":"p1d","w":320,"v":-1},{"s":"p1d","w":325,"v":0.5},{"s":"p1d","w":330,"v":-1},{"s":"p1d","w":335,"v":0},{"s":"p1d","w":340,"v":-0.5},{"s":"p1d","w":345,"v":0},
{"s":"p1e","w":245,"v":-23},{"s":"p1e","w":248,"v":-13},{"s":"p1e","w":251,"v":-9.5},{"s":"p1e","w":254,"v":-9},{"s":"p1e","w":257,"v":-10},{"s":"p1e","w":260,"v":-10},{"s":"p1e","w":263,"v":-11},{"s":"p1e","w":266,"v":-12},{"s":"p1e","w":269,"v":-13},{"s":"p1e","w":272,"v":-12},{"s":"p1e","w":275,"v":-12.5},{"s":"p1e","w":278,"v":-13},{"s":"p1e","w":281,"v":-12},{"s":"p1e","w":284,"v":-9},{"s":"p1e","w":287,"v":-7},{"s":"p1e","w":289,"v":-4.5},{"s":"p1e","w":291,"v":-1},{"s":"p1e","w":294,"v":1},{"s":"p1e","w":297,"v":1.5},{"s":"p1e","w":300,"v":0},{"s":"p1e","w":304,"v":0},{"s":"p1e","w":308,"v":-0.5},{"s":"p1e","w":312,"v":-2},{"s":"p1e","w":316,"v":0.5},{"s":"p1e","w":320,"v":-1},{"s":"p1e","w":325,"v":-0.5},{"s":"p1e","w":330,"v":0},{"s":"p1e","w":335,"v":-1},{"s":"p1e","w":340,"v":0},{"s":"p1e","w":345,"v":-1},
{"s":"p1f","w":245,"v":-23},{"s":"p1f","w":248,"v":-13.5},{"s":"p1f","w":251,"v":-10},{"s":"p1f","w":254,"v":-9},{"s":"p1f","w":257,"v":-10.5},{"s":"p1f","w":260,"v":-11},{"s":"p1f","w":263,"v":-12.5},{"s":"p1f","w":266,"v":-14.5},{"s":"p1f","w":269,"v":-15.5},{"s":"p1f","w":272,"v":-14},{"s":"p1f","w":275,"v":-14},{"s":"p1f","w":278,"v":-15},{"s":"p1f","w":281,"v":-13},{"s":"p1f","w":284,"v":-9.5},{"s":"p1f","w":287,"v":-7},{"s":"p1f","w":289,"v":-4.5},{"s":"p1f","w":291,"v":-1},{"s":"p1f","w":294,"v":0},{"s":"p1f","w":297,"v":1},{"s":"p1f","w":300,"v":0.5},{"s":"p1f","w":304,"v":-0.5},{"s":"p1f","w":308,"v":-1},{"s":"p1f","w":312,"v":-1.5},{"s":"p1f","w":316,"v":0},{"s":"p1f","w":320,"v":-1.5},{"s":"p1f","w":325,"v":0},{"s":"p1f","w":330,"v":-1},{"s":"p1f","w":335,"v":0},{"s":"p1f","w":340,"v":-1},{"s":"p1f","w":345,"v":0},
{"s":"p1g","w":245,"v":-23},{"s":"p1g","w":248,"v":-14},{"s":"p1g","w":251,"v":-10.5},{"s":"p1g","w":254,"v":-9.5},{"s":"p1g","w":257,"v":-11},{"s":"p1g","w":260,"v":-11.5},{"s":"p1g","w":263,"v":-13},{"s":"p1g","w":266,"v":-16},{"s":"p1g","w":269,"v":-17.5},{"s":"p1g","w":272,"v":-15},{"s":"p1g","w":275,"v":-15.5},{"s":"p1g","w":278,"v":-16},{"s":"p1g","w":281,"v":-13.5},{"s":"p1g","w":284,"v":-10},{"s":"p1g","w":287,"v":-7.5},{"s":"p1g","w":289,"v":-5},{"s":"p1g","w":291,"v":-1.5},{"s":"p1g","w":294,"v":0.5},{"s":"p1g","w":297,"v":0},{"s":"p1g","w":300,"v":0},{"s":"p1g","w":304,"v":-1},{"s":"p1g","w":308,"v":-0.5},{"s":"p1g","w":312,"v":-2},{"s":"p1g","w":316,"v":-0.5},{"s":"p1g","w":320,"v":-1},{"s":"p1g","w":325,"v":-1},{"s":"p1g","w":330,"v":-0.5},{"s":"p1g","w":335,"v":-1},{"s":"p1g","w":340,"v":-0.5},{"s":"p1g","w":345,"v":-1},
{"s":"p1h","w":245,"v":-23},{"s":"p1h","w":248,"v":-14},{"s":"p1h","w":251,"v":-11},{"s":"p1h","w":254,"v":-10},{"s":"p1h","w":257,"v":-11.5},{"s":"p1h","w":260,"v":-12},{"s":"p1h","w":263,"v":-14},{"s":"p1h","w":266,"v":-16.5},{"s":"p1h","w":269,"v":-16},{"s":"p1h","w":272,"v":-16.5},{"s":"p1h","w":275,"v":-15},{"s":"p1h","w":278,"v":-16.5},{"s":"p1h","w":281,"v":-14},{"s":"p1h","w":284,"v":-10},{"s":"p1h","w":287,"v":-7.5},{"s":"p1h","w":289,"v":-5},{"s":"p1h","w":291,"v":-1.5},{"s":"p1h","w":294,"v":-0.5},{"s":"p1h","w":297,"v":0.5},{"s":"p1h","w":300,"v":-1},{"s":"p1h","w":304,"v":-0.5},{"s":"p1h","w":308,"v":-1},{"s":"p1h","w":312,"v":-1.5},{"s":"p1h","w":316,"v":-0.5},{"s":"p1h","w":320,"v":-1.5},{"s":"p1h","w":325,"v":-0.5},{"s":"p1h","w":330,"v":-1.5},{"s":"p1h","w":335,"v":-0.5},{"s":"p1h","w":340,"v":-1.5},{"s":"p1h","w":345,"v":-0.5},
{"s":"p3a","w":247,"v":-10.5},{"s":"p3a","w":249,"v":-5.5},{"s":"p3a","w":252,"v":-2.5},{"s":"p3a","w":255,"v":-1},{"s":"p3a","w":258,"v":0.5},{"s":"p3a","w":261,"v":-0.5},{"s":"p3a","w":264,"v":-0.5},{"s":"p3a","w":267,"v":-1},{"s":"p3a","w":270,"v":-1.2},{"s":"p3a","w":273,"v":-1.5},{"s":"p3a","w":276,"v":-1},{"s":"p3a","w":279,"v":-0.5},{"s":"p3a","w":282,"v":0},{"s":"p3a","w":285,"v":1.5},{"s":"p3a","w":288,"v":3},{"s":"p3a","w":290,"v":4},{"s":"p3a","w":292,"v":5.3},{"s":"p3a","w":294,"v":4.8},{"s":"p3a","w":296,"v":3},{"s":"p3a","w":299,"v":1.5},{"s":"p3a","w":302,"v":0},{"s":"p3a","w":306,"v":0.2},{"s":"p3a","w":310,"v":-0.3},{"s":"p3a","w":315,"v":0},{"s":"p3a","w":320,"v":-0.5},{"s":"p3a","w":326,"v":0.5},{"s":"p3a","w":332,"v":-0.3},{"s":"p3a","w":338,"v":0.4},{"s":"p3a","w":344,"v":0.3},{"s":"p3a","w":350,"v":-0.3},
{"s":"p3b","w":247,"v":-10.5},{"s":"p3b","w":249,"v":-6},{"s":"p3b","w":252,"v":-3},{"s":"p3b","w":255,"v":-1.5},{"s":"p3b","w":258,"v":0},{"s":"p3b","w":261,"v":-1},{"s":"p3b","w":264,"v":-1.5},{"s":"p3b","w":267,"v":-2},{"s":"p3b","w":270,"v":-2},{"s":"p3b","w":273,"v":-2.5},{"s":"p3b","w":276,"v":-2},{"s":"p3b","w":279,"v":-1},{"s":"p3b","w":282,"v":0},{"s":"p3b","w":285,"v":2},{"s":"p3b","w":288,"v":3},{"s":"p3b","w":290,"v":4.2},{"s":"p3b","w":292,"v":5.5},{"s":"p3b","w":294,"v":4.5},{"s":"p3b","w":296,"v":3},{"s":"p3b","w":299,"v":1.2},{"s":"p3b","w":302,"v":0.2},{"s":"p3b","w":306,"v":0},{"s":"p3b","w":310,"v":-0.5},{"s":"p3b","w":315,"v":0.2},{"s":"p3b","w":320,"v":-0.3},{"s":"p3b","w":326,"v":0.3},{"s":"p3b","w":332,"v":0},{"s":"p3b","w":338,"v":0.2},{"s":"p3b","w":344,"v":0.1},{"s":"p3b","w":350,"v":-0.5},
{"s":"p3c","w":247,"v":-11},{"s":"p3c","w":249,"v":-6.5},{"s":"p3c","w":252,"v":-3},{"s":"p3c","w":255,"v":-1.8},{"s":"p3c","w":258,"v":-0.5},{"s":"p3c","w":261,"v":-1.5},{"s":"p3c","w":264,"v":-2.5},{"s":"p3c","w":267,"v":-3},{"s":"p3c","w":270,"v":-2.5},{"s":"p3c","w":273,"v":-3},{"s":"p3c","w":276,"v":-2.5},{"s":"p3c","w":279,"v":-2},{"s":"p3c","w":282,"v":-0.3},{"s":"p3c","w":285,"v":2.5},{"s":"p3c","w":288,"v":3.3},{"s":"p3c","w":290,"v":4.3},{"s":"p3c","w":292,"v":5.2},{"s":"p3c","w":294,"v":4.4},{"s":"p3c","w":296,"v":2.8},{"s":"p3c","w":299,"v":1.5},{"s":"p3c","w":302,"v":-0.2},{"s":"p3c","w":306,"v":0.3},{"s":"p3c","w":310,"v":-0.5},{"s":"p3c","w":315,"v":0},{"s":"p3c","w":320,"v":-0.7},{"s":"p3c","w":326,"v":0.3},{"s":"p3c","w":332,"v":-0.5},{"s":"p3c","w":338,"v":0.5},{"s":"p3c","w":344,"v":0},{"s":"p3c","w":350,"v":-0.3},
{"s":"p3d","w":247,"v":-11},{"s":"p3d","w":249,"v":-6.5},{"s":"p3d","w":252,"v":-3.5},{"s":"p3d","w":255,"v":-2},{"s":"p3d","w":258,"v":-1},{"s":"p3d","w":261,"v":-2},{"s":"p3d","w":264,"v":-3},{"s":"p3d","w":267,"v":-4.5},{"s":"p3d","w":270,"v":-3.5},{"s":"p3d","w":273,"v":-3.5},{"s":"p3d","w":276,"v":-3},{"s":"p3d","w":279,"v":-2.5},{"s":"p3d","w":282,"v":-0.5},{"s":"p3d","w":285,"v":2},{"s":"p3d","w":288,"v":3},{"s":"p3d","w":290,"v":4},{"s":"p3d","w":292,"v":5},{"s":"p3d","w":294,"v":4.6},{"s":"p3d","w":296,"v":3.2},{"s":"p3d","w":299,"v":1.3},{"s":"p3d","w":302,"v":0},{"s":"p3d","w":306,"v":-0.3},{"s":"p3d","w":310,"v":-0.3},{"s":"p3d","w":315,"v":-0.2},{"s":"p3d","w":320,"v":-0.8},{"s":"p3d","w":326,"v":0.1},{"s":"p3d","w":332,"v":-0.3},{"s":"p3d","w":338,"v":0.2},{"s":"p3d","w":344,"v":-0.2},{"s":"p3d","w":350,"v":-0.6},
{"s":"p3e","w":247,"v":-11},{"s":"p3e","w":249,"v":-7},{"s":"p3e","w":252,"v":-3.5},{"s":"p3e","w":255,"v":-2.2},{"s":"p3e","w":258,"v":-1.5},{"s":"p3e","w":261,"v":-2.5},{"s":"p3e","w":264,"v":-3.5},{"s":"p3e","w":267,"v":-4},{"s":"p3e","w":270,"v":-4},{"s":"p3e","w":273,"v":-4},{"s":"p3e","w":276,"v":-3.5},{"s":"p3e","w":279,"v":-2.8},{"s":"p3e","w":282,"v":-1},{"s":"p3e","w":285,"v":1.8},{"s":"p3e","w":288,"v":3.2},{"s":"p3e","w":290,"v":4.1},{"s":"p3e","w":292,"v":5.1},{"s":"p3e","w":294,"v":4.3},{"s":"p3e","w":296,"v":3},{"s":"p3e","w":299,"v":1.4},{"s":"p3e","w":302,"v":0.1},{"s":"p3e","w":306,"v":0.1},{"s":"p3e","w":310,"v":-0.7},{"s":"p3e","w":315,"v":0.1},{"s":"p3e","w":320,"v":-0.6},{"s":"p3e","w":326,"v":0.2},{"s":"p3e","w":332,"v":-0.4},{"s":"p3e","w":338,"v":0.3},{"s":"p3e","w":344,"v":0},{"s":"p3e","w":350,"v":-0.4},
{"s":"p3f","w":247,"v":-11},{"s":"p3f","w":249,"v":-6},{"s":"p3f","w":252,"v":-3},{"s":"p3f","w":255,"v":-1.5},{"s":"p3f","w":258,"v":-0.5},{"s":"p3f","w":261,"v":-1},{"s":"p3f","w":264,"v":-2},{"s":"p3f","w":267,"v":-2.5},{"s":"p3f","w":270,"v":-3},{"s":"p3f","w":273,"v":-2.5},{"s":"p3f","w":276,"v":-2},{"s":"p3f","w":279,"v":-1.5},{"s":"p3f","w":282,"v":0.2},{"s":"p3f","w":285,"v":2.2},{"s":"p3f","w":288,"v":3.5},{"s":"p3f","w":290,"v":4.5},{"s":"p3f","w":292,"v":5.4},{"s":"p3f","w":294,"v":4.6},{"s":"p3f","w":296,"v":3.2},{"s":"p3f","w":299,"v":1.6},{"s":"p3f","w":302,"v":0.3},{"s":"p3f","w":306,"v":0.2},{"s":"p3f","w":310,"v":-0.4},{"s":"p3f","w":315,"v":0.1},{"s":"p3f","w":320,"v":-0.4},{"s":"p3f","w":326,"v":0.4},{"s":"p3f","w":332,"v":-0.1},{"s":"p3f","w":338,"v":0.3},{"s":"p3f","w":344,"v":0.2},{"s":"p3f","w":350,"v":-0.4},
{"s":"tfa","w":241,"v":-52},{"s":"tfa","w":243,"v":-12},{"s":"tfa","w":245,"v":-5},{"s":"tfa","w":248,"v":-1},{"s":"tfa","w":252,"v":1.5},{"s":"tfa","w":256,"v":3.5},{"s":"tfa","w":260,"v":4.6},{"s":"tfa","w":264,"v":6},{"s":"tfa","w":268,"v":6.5},{"s":"tfa","w":272,"v":6.6},{"s":"tfa","w":276,"v":5.5},{"s":"tfa","w":280,"v":3.5},{"s":"tfa","w":284,"v":2},{"s":"tfa","w":288,"v":1},{"s":"tfa","w":292,"v":0.5},{"s":"tfa","w":296,"v":0},{"s":"tfa","w":300,"v":0},{"s":"tfa","w":305,"v":-0.3},{"s":"tfa","w":310,"v":0},{"s":"tfa","w":316,"v":0},{"s":"tfa","w":324,"v":0},{"s":"tfa","w":335,"v":0},{"s":"tfa","w":350,"v":0},
{"s":"tfb","w":241,"v":-53},{"s":"tfb","w":243,"v":-20},{"s":"tfb","w":245,"v":-10},{"s":"tfb","w":248,"v":-5.5},{"s":"tfb","w":252,"v":-3},{"s":"tfb","w":256,"v":-0.5},{"s":"tfb","w":260,"v":1.5},{"s":"tfb","w":264,"v":1.5},{"s":"tfb","w":268,"v":0.5},{"s":"tfb","w":272,"v":0},{"s":"tfb","w":276,"v":0.3},{"s":"tfb","w":280,"v":0},{"s":"tfb","w":284,"v":0},{"s":"tfb","w":288,"v":0},{"s":"tfb","w":292,"v":-0.3},{"s":"tfb","w":296,"v":-0.5},{"s":"tfb","w":300,"v":-0.3},{"s":"tfb","w":305,"v":-0.5},{"s":"tfb","w":310,"v":-0.3},{"s":"tfb","w":316,"v":0},{"s":"tfb","w":324,"v":-0.3},{"s":"tfb","w":335,"v":0},{"s":"tfb","w":350,"v":0},
{"s":"tfc","w":241,"v":-54},{"s":"tfc","w":243,"v":-26},{"s":"tfc","w":245,"v":-15},{"s":"tfc","w":248,"v":-9},{"s":"tfc","w":252,"v":-6.7},{"s":"tfc","w":256,"v":-5.5},{"s":"tfc","w":260,"v":-5},{"s":"tfc","w":264,"v":-6},{"s":"tfc","w":268,"v":-7},{"s":"tfc","w":272,"v":-7.6},{"s":"tfc","w":276,"v":-7.6},{"s":"tfc","w":280,"v":-6},{"s":"tfc","w":284,"v":-4},{"s":"tfc","w":288,"v":-2.4},{"s":"tfc","w":292,"v":-1},{"s":"tfc","w":296,"v":-0.5},{"s":"tfc","w":300,"v":-0.5},{"s":"tfc","w":305,"v":-0.5},{"s":"tfc","w":310,"v":-0.5},{"s":"tfc","w":316,"v":-0.3},{"s":"tfc","w":324,"v":-0.3},{"s":"tfc","w":335,"v":0},{"s":"tfc","w":350,"v":0},
{"s":"tfd","w":241,"v":-55},{"s":"tfd","w":243,"v":-30},{"s":"tfd","w":245,"v":-20},{"s":"tfd","w":248,"v":-14},{"s":"tfd","w":252,"v":-12},{"s":"tfd","w":256,"v":-10.5},{"s":"tfd","w":260,"v":-10.2},{"s":"tfd","w":264,"v":-12.5},{"s":"tfd","w":268,"v":-14},{"s":"tfd","w":272,"v":-15.5},{"s":"tfd","w":276,"v":-15.5},{"s":"tfd","w":280,"v":-13.5},{"s":"tfd","w":284,"v":-10.5},{"s":"tfd","w":288,"v":-7.5},{"s":"tfd","w":292,"v":-4},{"s":"tfd","w":296,"v":-2},{"s":"tfd","w":300,"v":-1},{"s":"tfd","w":305,"v":-1},{"s":"tfd","w":310,"v":-0.8},{"s":"tfd","w":316,"v":-0.5},{"s":"tfd","w":324,"v":-0.3},{"s":"tfd","w":335,"v":0},{"s":"tfd","w":350,"v":0},
{"s":"tfe","w":241,"v":-56},{"s":"tfe","w":243,"v":-33},{"s":"tfe","w":245,"v":-23},{"s":"tfe","w":248,"v":-17.5},{"s":"tfe","w":252,"v":-15.5},{"s":"tfe","w":256,"v":-14.5},{"s":"tfe","w":260,"v":-14.2},{"s":"tfe","w":264,"v":-17},{"s":"tfe","w":268,"v":-20.5},{"s":"tfe","w":272,"v":-24},{"s":"tfe","w":276,"v":-24.5},{"s":"tfe","w":280,"v":-22},{"s":"tfe","w":284,"v":-17.5},{"s":"tfe","w":288,"v":-13},{"s":"tfe","w":292,"v":-9},{"s":"tfe","w":296,"v":-5},{"s":"tfe","w":300,"v":-3},{"s":"tfe","w":305,"v":-1.5},{"s":"tfe","w":310,"v":-1},{"s":"tfe","w":316,"v":-0.8},{"s":"tfe","w":324,"v":-0.5},{"s":"tfe","w":335,"v":0},{"s":"tfe","w":350,"v":0},
{"s":"tff","w":241,"v":-57},{"s":"tff","w":243,"v":-35},{"s":"tff","w":245,"v":-25},{"s":"tff","w":248,"v":-20},{"s":"tff","w":252,"v":-18},{"s":"tff","w":256,"v":-18.5},{"s":"tff","w":260,"v":-19},{"s":"tff","w":264,"v":-22},{"s":"tff","w":268,"v":-27},{"s":"tff","w":272,"v":-31},{"s":"tff","w":276,"v":-32.5},{"s":"tff","w":280,"v":-29},{"s":"tff","w":284,"v":-23},{"s":"tff","w":288,"v":-17},{"s":"tff","w":292,"v":-11},{"s":"tff","w":296,"v":-6.5},{"s":"tff","w":300,"v":-4},{"s":"tff","w":305,"v":-2},{"s":"tff","w":310,"v":-1.5},{"s":"tff","w":316,"v":-1},{"s":"tff","w":324,"v":-0.5},{"s":"tff","w":335,"v":0},{"s":"tff","w":350,"v":0},
{"s":"tfg","w":241,"v":-58},{"s":"tfg","w":243,"v":-36},{"s":"tfg","w":245,"v":-26},{"s":"tfg","w":248,"v":-21},{"s":"tfg","w":252,"v":-19},{"s":"tfg","w":256,"v":-19.5},{"s":"tfg","w":260,"v":-21.5},{"s":"tfg","w":264,"v":-26},{"s":"tfg","w":268,"v":-31},{"s":"tfg","w":272,"v":-36},{"s":"tfg","w":276,"v":-38},{"s":"tfg","w":280,"v":-37},{"s":"tfg","w":284,"v":-32},{"s":"tfg","w":288,"v":-24},{"s":"tfg","w":292,"v":-16},{"s":"tfg","w":296,"v":-9},{"s":"tfg","w":300,"v":-5},{"s":"tfg","w":305,"v":-2.5},{"s":"tfg","w":310,"v":-1.5},{"s":"tfg","w":316,"v":-1},{"s":"tfg","w":324,"v":-0.5},{"s":"tfg","w":335,"v":0},{"s":"tfg","w":350,"v":0},
{"s":"tfh","w":241,"v":-58},{"s":"tfh","w":243,"v":-37},{"s":"tfh","w":245,"v":-27},{"s":"tfh","w":248,"v":-21.5},{"s":"tfh","w":252,"v":-19.5},{"s":"tfh","w":256,"v":-20},{"s":"tfh","w":260,"v":-22.5},{"s":"tfh","w":264,"v":-27.5},{"s":"tfh","w":268,"v":-33},{"s":"tfh","w":272,"v":-37.5},{"s":"tfh","w":276,"v":-39.5},{"s":"tfh","w":280,"v":-38.5},{"s":"tfh","w":284,"v":-34},{"s":"tfh","w":288,"v":-27},{"s":"tfh","w":292,"v":-18},{"s":"tfh","w":296,"v":-11},{"s":"tfh","w":300,"v":-6},{"s":"tfh","w":305,"v":-3},{"s":"tfh","w":310,"v":-2},{"s":"tfh","w":316,"v":-1},{"s":"tfh","w":324,"v":-0.5},{"s":"tfh","w":335,"v":-0.3},{"s":"tfh","w":350,"v":0},
{"s":"tfi","w":241,"v":-59},{"s":"tfi","w":243,"v":-38},{"s":"tfi","w":245,"v":-28},{"s":"tfi","w":248,"v":-22},{"s":"tfi","w":252,"v":-20},{"s":"tfi","w":256,"v":-20.5},{"s":"tfi","w":260,"v":-23},{"s":"tfi","w":264,"v":-28.5},{"s":"tfi","w":268,"v":-34},{"s":"tfi","w":272,"v":-38},{"s":"tfi","w":276,"v":-40},{"s":"tfi","w":280,"v":-40},{"s":"tfi","w":284,"v":-36},{"s":"tfi","w":288,"v":-29},{"s":"tfi","w":292,"v":-20},{"s":"tfi","w":296,"v":-12.5},{"s":"tfi","w":300,"v":-7},{"s":"tfi","w":305,"v":-3.5},{"s":"tfi","w":310,"v":-2},{"s":"tfi","w":316,"v":-1.2},{"s":"tfi","w":324,"v":-0.7},{"s":"tfi","w":335,"v":-0.3},{"s":"tfi","w":350,"v":0},
{"s":"tfj","w":241,"v":-60},{"s":"tfj","w":243,"v":-39},{"s":"tfj","w":245,"v":-29},{"s":"tfj","w":248,"v":-22.5},{"s":"tfj","w":252,"v":-20.5},{"s":"tfj","w":256,"v":-21},{"s":"tfj","w":260,"v":-23.5},{"s":"tfj","w":264,"v":-29},{"s":"tfj","w":268,"v":-34.5},{"s":"tfj","w":272,"v":-38.5},{"s":"tfj","w":276,"v":-40.5},{"s":"tfj","w":280,"v":-40.5},{"s":"tfj","w":284,"v":-37.5},{"s":"tfj","w":288,"v":-32},{"s":"tfj","w":292,"v":-24},{"s":"tfj","w":296,"v":-16},{"s":"tfj","w":300,"v":-9},{"s":"tfj","w":305,"v":-4.5},{"s":"tfj","w":310,"v":-2.5},{"s":"tfj","w":316,"v":-1.5},{"s":"tfj","w":324,"v":-1},{"s":"tfj","w":335,"v":-0.5},{"s":"tfj","w":350,"v":0},
{"s":"xxa","w":244,"v":-40},{"s":"xxa","w":246,"v":-28},{"s":"xxa","w":249,"v":-16},{"s":"xxa","w":252,"v":-11},{"s":"xxa","w":256,"v":-5},{"s":"xxa","w":260,"v":2},{"s":"xxa","w":264,"v":3},{"s":"xxa","w":268,"v":4},{"s":"xxa","w":272,"v":4.5},{"s":"xxa","w":276,"v":5},{"s":"xxa","w":280,"v":4},{"s":"xxa","w":284,"v":4.5},{"s":"xxa","w":288,"v":5},{"s":"xxa","w":292,"v":4},{"s":"xxa","w":296,"v":3.5},{"s":"xxa","w":300,"v":1.5},{"s":"xxa","w":305,"v":-0.3},{"s":"xxa","w":310,"v":-0.5},{"s":"xxa","w":316,"v":0},{"s":"xxa","w":324,"v":-0.5},{"s":"xxa","w":333,"v":0},{"s":"xxa","w":342,"v":0},{"s":"xxa","w":348,"v":0.3},
{"s":"xxb","w":244,"v":-41},{"s":"xxb","w":246,"v":-29},{"s":"xxb","w":249,"v":-17},{"s":"xxb","w":252,"v":-13},{"s":"xxb","w":256,"v":-7},{"s":"xxb","w":260,"v":-3},{"s":"xxb","w":264,"v":0},{"s":"xxb","w":268,"v":0.5},{"s":"xxb","w":272,"v":1},{"s":"xxb","w":276,"v":2.3},{"s":"xxb","w":280,"v":1.7},{"s":"xxb","w":284,"v":2},{"s":"xxb","w":288,"v":2.3},{"s":"xxb","w":292,"v":2.9},{"s":"xxb","w":296,"v":2.5},{"s":"xxb","w":300,"v":1.5},{"s":"xxb","w":305,"v":-0.5},{"s":"xxb","w":310,"v":-1},{"s":"xxb","w":316,"v":-0.5},{"s":"xxb","w":324,"v":-0.5},{"s":"xxb","w":333,"v":0},{"s":"xxb","w":342,"v":0},{"s":"xxb","w":348,"v":0},
{"s":"xxc","w":244,"v":-42},{"s":"xxc","w":246,"v":-30},{"s":"xxc","w":249,"v":-18},{"s":"xxc","w":252,"v":-14},{"s":"xxc","w":256,"v":-8},{"s":"xxc","w":260,"v":-4},{"s":"xxc","w":264,"v":-2.5},{"s":"xxc","w":268,"v":-2},{"s":"xxc","w":272,"v":-2},{"s":"xxc","w":276,"v":-2},{"s":"xxc","w":280,"v":-1},{"s":"xxc","w":284,"v":-0.5},{"s":"xxc","w":288,"v":0},{"s":"xxc","w":292,"v":1},{"s":"xxc","w":296,"v":1.5},{"s":"xxc","w":300,"v":0.5},{"s":"xxc","w":305,"v":-1},{"s":"xxc","w":310,"v":-1.5},{"s":"xxc","w":316,"v":-1},{"s":"xxc","w":324,"v":-0.5},{"s":"xxc","w":333,"v":-0.3},{"s":"xxc","w":342,"v":0},{"s":"xxc","w":348,"v":0},
{"s":"xxd","w":244,"v":-43},{"s":"xxd","w":246,"v":-30},{"s":"xxd","w":249,"v":-18.5},{"s":"xxd","w":252,"v":-14.5},{"s":"xxd","w":256,"v":-9},{"s":"xxd","w":260,"v":-6},{"s":"xxd","w":264,"v":-5},{"s":"xxd","w":268,"v":-4.5},{"s":"xxd","w":272,"v":-4.5},{"s":"xxd","w":276,"v":-4.5},{"s":"xxd","w":280,"v":-3.5},{"s":"xxd","w":284,"v":-2.5},{"s":"xxd","w":288,"v":-1.5},{"s":"xxd","w":292,"v":0},{"s":"xxd","w":296,"v":0.5},{"s":"xxd","w":300,"v":0},{"s":"xxd","w":305,"v":-1.5},{"s":"xxd","w":310,"v":-2},{"s":"xxd","w":316,"v":-1},{"s":"xxd","w":324,"v":-0.5},{"s":"xxd","w":333,"v":0},{"s":"xxd","w":342,"v":0},{"s":"xxd","w":348,"v":0},
{"s":"xxe","w":244,"v":-44},{"s":"xxe","w":246,"v":-31},{"s":"xxe","w":249,"v":-19},{"s":"xxe","w":252,"v":-15},{"s":"xxe","w":256,"v":-10},{"s":"xxe","w":260,"v":-8},{"s":"xxe","w":264,"v":-7},{"s":"xxe","w":268,"v":-6.5},{"s":"xxe","w":272,"v":-6.5},{"s":"xxe","w":276,"v":-6.5},{"s":"xxe","w":280,"v":-5.5},{"s":"xxe","w":284,"v":-4.5},{"s":"xxe","w":288,"v":-3},{"s":"xxe","w":292,"v":-1.5},{"s":"xxe","w":296,"v":-0.5},{"s":"xxe","w":300,"v":-1},{"s":"xxe","w":305,"v":-2},{"s":"xxe","w":310,"v":-2},{"s":"xxe","w":316,"v":-1.5},{"s":"xxe","w":324,"v":-1},{"s":"xxe","w":333,"v":0},{"s":"xxe","w":342,"v":0},{"s":"xxe","w":348,"v":0},
{"s":"xxf","w":244,"v":-45},{"s":"xxf","w":246,"v":-31},{"s":"xxf","w":249,"v":-19.5},{"s":"xxf","w":252,"v":-15.5},{"s":"xxf","w":256,"v":-11},{"s":"xxf","w":260,"v":-9.5},{"s":"xxf","w":264,"v":-9},{"s":"xxf","w":268,"v":-9},{"s":"xxf","w":272,"v":-9},{"s":"xxf","w":276,"v":-9},{"s":"xxf","w":280,"v":-8},{"s":"xxf","w":284,"v":-6.5},{"s":"xxf","w":288,"v":-5},{"s":"xxf","w":292,"v":-3},{"s":"xxf","w":296,"v":-2},{"s":"xxf","w":300,"v":-1.5},{"s":"xxf","w":305,"v":-2.5},{"s":"xxf","w":310,"v":-2.5},{"s":"xxf","w":316,"v":-1.5},{"s":"xxf","w":324,"v":-0.5},{"s":"xxf","w":333,"v":0},{"s":"xxf","w":342,"v":0},{"s":"xxf","w":348,"v":0},
{"s":"xxg","w":244,"v":-46},{"s":"xxg","w":246,"v":-32},{"s":"xxg","w":249,"v":-20},{"s":"xxg","w":252,"v":-16},{"s":"xxg","w":256,"v":-12.5},{"s":"xxg","w":260,"v":-11.5},{"s":"xxg","w":264,"v":-11.5},{"s":"xxg","w":268,"v":-12},{"s":"xxg","w":272,"v":-12},{"s":"xxg","w":276,"v":-12},{"s":"xxg","w":280,"v":-11},{"s":"xxg","w":284,"v":-9},{"s":"xxg","w":288,"v":-7},{"s":"xxg","w":292,"v":-5},{"s":"xxg","w":296,"v":-3},{"s":"xxg","w":300,"v":-2.5},{"s":"xxg","w":305,"v":-3},{"s":"xxg","w":310,"v":-2.5},{"s":"xxg","w":316,"v":-1.5},{"s":"xxg","w":324,"v":-1},{"s":"xxg","w":333,"v":0},{"s":"xxg","w":342,"v":0},{"s":"xxg","w":348,"v":0},
{"s":"xxh","w":244,"v":-47},{"s":"xxh","w":246,"v":-33},{"s":"xxh","w":249,"v":-21},{"s":"xxh","w":252,"v":-16.5},{"s":"xxh","w":256,"v":-14},{"s":"xxh","w":260,"v":-13.5},{"s":"xxh","w":264,"v":-13.5},{"s":"xxh","w":268,"v":-14.5},{"s":"xxh","w":272,"v":-15},{"s":"xxh","w":276,"v":-15},{"s":"xxh","w":280,"v":-14},{"s":"xxh","w":284,"v":-12},{"s":"xxh","w":288,"v":-9.5},{"s":"xxh","w":292,"v":-7},{"s":"xxh","w":296,"v":-5},{"s":"xxh","w":300,"v":-3.5},{"s":"xxh","w":305,"v":-3.5},{"s":"xxh","w":310,"v":-3},{"s":"xxh","w":316,"v":-2},{"s":"xxh","w":324,"v":-1},{"s":"xxh","w":333,"v":-0.5},{"s":"xxh","w":342,"v":0},{"s":"xxh","w":348,"v":0},
{"s":"xxi","w":244,"v":-48},{"s":"xxi","w":246,"v":-34},{"s":"xxi","w":249,"v":-21.5},{"s":"xxi","w":252,"v":-17},{"s":"xxi","w":256,"v":-16},{"s":"xxi","w":260,"v":-16},{"s":"xxi","w":264,"v":-16.5},{"s":"xxi","w":268,"v":-18},{"s":"xxi","w":272,"v":-19},{"s":"xxi","w":276,"v":-19.5},{"s":"xxi","w":280,"v":-18},{"s":"xxi","w":284,"v":-15.5},{"s":"xxi","w":288,"v":-12},{"s":"xxi","w":292,"v":-9},{"s":"xxi","w":296,"v":-6.5},{"s":"xxi","w":300,"v":-5},{"s":"xxi","w":305,"v":-4.5},{"s":"xxi","w":310,"v":-3},{"s":"xxi","w":316,"v":-2},{"s":"xxi","w":324,"v":-1},{"s":"xxi","w":333,"v":-0.5},{"s":"xxi","w":342,"v":0},{"s":"xxi","w":348,"v":0},
{"s":"xxj","w":244,"v":-49},{"s":"xxj","w":246,"v":-35},{"s":"xxj","w":249,"v":-22},{"s":"xxj","w":252,"v":-17},{"s":"xxj","w":256,"v":-16.5},{"s":"xxj","w":260,"v":-16.5},{"s":"xxj","w":264,"v":-17},{"s":"xxj","w":268,"v":-19},{"s":"xxj","w":272,"v":-22},{"s":"xxj","w":276,"v":-25},{"s":"xxj","w":280,"v":-22},{"s":"xxj","w":284,"v":-19.5},{"s":"xxj","w":288,"v":-15},{"s":"xxj","w":292,"v":-11},{"s":"xxj","w":296,"v":-8},{"s":"xxj","w":300,"v":-6},{"s":"xxj","w":305,"v":-5},{"s":"xxj","w":310,"v":-3.5},{"s":"xxj","w":316,"v":-2},{"s":"xxj","w":324,"v":-1},{"s":"xxj","w":333,"v":-0.5},{"s":"xxj","w":342,"v":0},{"s":"xxj","w":348,"v":0}
]},
"concat":[
{"width":240,"height":237,"layer":[
{"data":{"name":"cd"},"transform":[{"filter":"substring(datum.s,0,2)=='fd'"}],"mark":{"type":"line","clip":true},
"encoding":{"x":{"field":"w","type":"quantitative","scale":{"domain":[230,350],"nice":false,"zero":false},"axis":{"values":[230,240,250,260,270,280,290,300,310,320,330,340,350],"tickCount":100,"labelExpr":"datum.value%20===0?''+datum.value:''","title":"Wavelengh (nm)","labelFontSize":12,"titleFontSize":12,"titlePadding":11}},
"y":{"field":"v","type":"quantitative","scale":{"domain":[-55,5],"nice":false,"zero":false},"axis":{"values":[5,0,-5,-10,-15,-20,-25,-30,-35,-40,-45,-50,-55],"tickCount":100,"labelExpr":"datum.value%10===0?''+datum.value:''","title":"Observed Ellipticity (mdeg)","labelFontSize":12,"titleFontSize":17,"titlePadding":7}},
"detail":{"field":"s"}}},
{"data":{"values":[{}]},"mark":{"type":"rule","color":"#000","strokeWidth":0.8},"encoding":{"y":{"datum":0}}},
{"data":{"values":[{"t":"fd"}]},"mark":{"type":"text","align":"right","baseline":"alphabetic","font":"Liberation Sans","fontWeight":"bold","fontSize":30,"color":"#000"},"encoding":{"x":{"datum":348.6},"y":{"datum":-50.7},"text":{"field":"t"}}}
]},
{"width":282,"height":237,"layer":[
{"data":{"name":"cd"},"transform":[{"filter":"substring(datum.s,0,2)=='ik'"}],"mark":{"type":"line","clip":true},
"encoding":{"x":{"field":"w","type":"quantitative","scale":{"domain":[240,350],"nice":false,"zero":false},"axis":{"values":[240,250,260,270,280,290,300,310,320,330,340,350],"tickCount":100,"labelExpr":"datum.value%20===0?''+datum.value:''","title":"Wavelength(nm)","titlePadding":11}},
"y":{"field":"v","type":"quantitative","scale":{"domain":[-35,11.63],"nice":false,"zero":false},"axis":{"values":[10,5,0,-5,-10,-15,-20,-25,-30,-35],"tickCount":100,"labelExpr":"datum.value%10===0?''+datum.value:''","title":null,"domain":false}},
"detail":{"field":"s"}}},
{"data":{"values":[{}]},"mark":{"type":"rule","color":"#000","strokeWidth":0.8},"encoding":{"y":{"datum":0}}},
{"data":{"values":[{}]},"mark":{"type":"rule","color":"#000","strokeWidth":1},"encoding":{"x":{"datum":240},"y":{"datum":-35},"y2":{"datum":10}}},
{"data":{"values":[{"t":"IKe"}]},"mark":{"type":"text","align":"right","baseline":"alphabetic","font":"Liberation Sans","fontWeight":"bold","fontSize":33,"color":"#000"},"encoding":{"x":{"datum":349.5},"y":{"datum":-32},"text":{"field":"t"}}}
]},
{"width":282,"height":237,"layer":[
{"data":{"name":"cd"},"transform":[{"filter":"substring(datum.s,0,2)=='i2'"}],"mark":{"type":"line","clip":true},
"encoding":{"x":{"field":"w","type":"quantitative","scale":{"domain":[240,350],"nice":false,"zero":false},"axis":{"values":[240,250,260,270,280,290,300,310,320,330,340,350],"tickCount":100,"labelExpr":"datum.value%20===0?''+datum.value:''","title":"Wavelength(nm)","titlePadding":11}},
"y":{"field":"v","type":"quantitative","scale":{"domain":[-40,11.86],"nice":false,"zero":false},"axis":{"values":[10,5,0,-5,-10,-15,-20,-25,-30,-35,-40],"tickCount":100,"labelExpr":"datum.value%10===0?''+datum.value:''","title":null,"domain":false}},
"detail":{"field":"s"}}},
{"data":{"values":[{}]},"mark":{"type":"rule","color":"#000","strokeWidth":0.8},"encoding":{"y":{"datum":0}}},
{"data":{"values":[{}]},"mark":{"type":"rule","color":"#000","strokeWidth":1},"encoding":{"x":{"datum":240},"y":{"datum":-40},"y2":{"datum":10}}},
{"data":{"values":[{"t":"I₂2"}]},"mark":{"type":"text","align":"right","baseline":"alphabetic","font":"Liberation Sans","fontWeight":"bold","fontSize":28,"color":"#000"},"encoding":{"x":{"datum":347.4},"y":{"datum":-36.3},"text":{"field":"t"}}}
]},
{"width":281,"height":237,"layer":[
{"data":{"name":"cd"},"transform":[{"filter":"substring(datum.s,0,2)=='x2'"}],"mark":{"type":"line","clip":true},
"encoding":{"x":{"field":"w","type":"quantitative","scale":{"domain":[240,350],"nice":false,"zero":false},"axis":{"values":[240,250,260,270,280,290,300,310,320,330,340,350],"tickCount":100,"labelExpr":"datum.value%20===0?''+datum.value:''","title":"Wavelength(nm)","titlePadding":11}},
"y":{"field":"v","type":"quantitative","scale":{"domain":[-35,11.63],"nice":false,"zero":false},"axis":{"values":[10,5,0,-5,-10,-15,-20,-25,-30,-35],"tickCount":100,"labelExpr":"datum.value%10===0?''+datum.value:''","title":null,"domain":false}},
"detail":{"field":"s"}}},
{"data":{"values":[{}]},"mark":{"type":"rule","color":"#000","strokeWidth":0.8},"encoding":{"y":{"datum":0}}},
{"data":{"values":[{}]},"mark":{"type":"rule","color":"#000","strokeWidth":1},"encoding":{"x":{"datum":240},"y":{"datum":-35},"y2":{"datum":10}}},
{"data":{"values":[{"t":"X-2"}]},"mark":{"type":"text","align":"right","baseline":"alphabetic","font":"Liberation Sans","fontWeight":"bold","fontSize":35,"color":"#000"},"encoding":{"x":{"datum":348.9},"y":{"datum":-32.3},"text":{"field":"t"}}}
]},
{"width":240,"height":228,"layer":[
{"data":{"name":"cd"},"transform":[{"filter":"substring(datum.s,0,2)=='p1'"}],"mark":{"type":"line","clip":true},
"encoding":{"x":{"field":"w","type":"quantitative","scale":{"domain":[240,346],"nice":false,"zero":false},"axis":{"values":[240,250,260,270,280,290,300,310,320,330,340],"tickCount":100,"labelExpr":"datum.value%20===0?''+datum.value:''","title":"Wavelength(nm)","labelFontSize":12,"titleFontSize":13,"titlePadding":9}},
"y":{"field":"v","type":"quantitative","scale":{"domain":[-20,5],"nice":false,"zero":false},"axis":{"values":[5,2.5,0,-2.5,-5,-7.5,-10,-12.5,-15,-17.5,-20],"tickCount":100,"labelExpr":"datum.value%5===0?''+datum.value:''","title":"Observed Ellipticity (mdeg)","labelFontSize":12,"titleFontSize":17,"titlePadding":7}},
"detail":{"field":"s"}}},
{"data":{"values":[{}]},"mark":{"type":"rule","color":"#000","strokeWidth":0.8},"encoding":{"y":{"datum":0}}},
{"data":{"values":[{"t":"Pf1"}]},"mark":{"type":"text","align":"right","baseline":"alphabetic","font":"Liberation Sans","fontWeight":"bold","fontSize":30,"color":"#000"},"encoding":{"x":{"datum":344.8},"y":{"datum":-18.5},"text":{"field":"t"}}}
]},
{"width":283,"height":228,"layer":[
{"data":{"name":"cd"},"transform":[{"filter":"substring(datum.s,0,2)=='p3'"}],"mark":{"type":"line","clip":true},
"encoding":{"x":{"field":"w","type":"quantitative","scale":{"domain":[240,350],"nice":false,"zero":false},"axis":{"values":[240,250,260,270,280,290,300,310,320,330,340,350],"tickCount":100,"labelExpr":"datum.value%20===0?''+datum.value:''","title":"Wavelength(nm)"}},
"y":{"field":"v","type":"quantitative","scale":{"domain":[-10,10],"nice":false,"zero":false},"axis":{"values":[10,7.5,5,2.5,0,-2.5,-5,-7.5,-10],"tickCount":100,"labelExpr":"datum.value%5===0?''+datum.value:''","title":null}},
"detail":{"field":"s"}}},
{"data":{"values":[{}]},"mark":{"type":"rule","color":"#000","strokeWidth":0.8},"encoding":{"y":{"datum":0}}},
{"data":{"values":[{"t":"Pf3"}]},"mark":{"type":"text","align":"right","baseline":"alphabetic","font":"Liberation Sans","fontWeight":"bold","fontSize":33,"color":"#000"},"encoding":{"x":{"datum":349.5},"y":{"datum":-8.7},"text":{"field":"t"}}}
]},
{"width":282,"height":228,"layer":[
{"data":{"name":"cd"},"transform":[{"filter":"substring(datum.s,0,2)=='tf'"}],"mark":{"type":"line","clip":true},
"encoding":{"x":{"field":"w","type":"quantitative","scale":{"domain":[228.5,353],"nice":false,"zero":false},"axis":{"values":[230,240,250,260,270,280,290,300,310,320,330,340,350],"tickCount":100,"labelExpr":"datum.value%20===0?''+datum.value:''","title":"Wavelength(nm)"}},
"y":{"field":"v","type":"quantitative","scale":{"domain":[-50,10],"nice":false,"zero":false},"axis":{"values":[10,5,0,-5,-10,-15,-20,-25,-30,-35,-40,-45,-50],"tickCount":100,"labelExpr":"datum.value%10===0?''+datum.value:''","title":null}},
"detail":{"field":"s"}}},
{"data":{"values":[{}]},"mark":{"type":"rule","color":"#000","strokeWidth":0.8},"encoding":{"y":{"datum":0}}},
{"data":{"values":[{"t":"tf-1"}]},"mark":{"type":"text","align":"right","baseline":"alphabetic","font":"Liberation Sans","fontWeight":"bold","fontSize":34,"color":"#000"},"encoding":{"x":{"datum":352.5},"y":{"datum":-46.1},"text":{"field":"t"}}}
]},
{"width":274,"height":228,"layer":[
{"data":{"name":"cd"},"transform":[{"filter":"substring(datum.s,0,2)=='xx'"}],"mark":{"type":"line","clip":true},
"encoding":{"x":{"field":"w","type":"quantitative","scale":{"domain":[232,348],"nice":false,"zero":false},"axis":{"values":[240,250,260,270,280,290,300,310,320,330,340],"tickCount":100,"labelExpr":"datum.value%20===0?''+datum.value:''","title":"Wavelength(nm)"}},
"y":{"field":"v","type":"quantitative","scale":{"domain":[-30,10],"nice":false,"zero":false},"axis":{"values":[10,5,0,-5,-10,-15,-20,-25,-30],"tickCount":100,"labelExpr":"datum.value%10===0?''+datum.value:''","title":null}},
"detail":{"field":"s"}}},
{"data":{"values":[{}]},"mark":{"type":"rule","color":"#000","strokeWidth":0.8},"encoding":{"y":{"datum":0}}},
{"data":{"values":[{"t":"X"}]},"mark":{"type":"text","align":"right","baseline":"alphabetic","font":"Liberation Sans","fontWeight":"normal","fontSize":35,"color":"#000"},"encoding":{"x":{"datum":346.2},"y":{"datum":-27.4},"text":{"field":"t"}}}
]}
],
"config":{
"view":{"stroke":null},
"line":{"color":"#000","strokeWidth":0.9},
"axis":{"grid":false,"domainColor":"#000","tickColor":"#000","labelColor":"#000","titleColor":"#000","domainWidth":1,"tickWidth":1,"tickSize":3,"labelPadding":3,"labelFont":"Liberation Sans","labelFontSize":14,"titleFont":"Liberation Sans","titleFontSize":13,"titleFontWeight":"normal","titlePadding":8,"labelFlush":false,"labelOverlap":false,"tickCount":100}
}
}
